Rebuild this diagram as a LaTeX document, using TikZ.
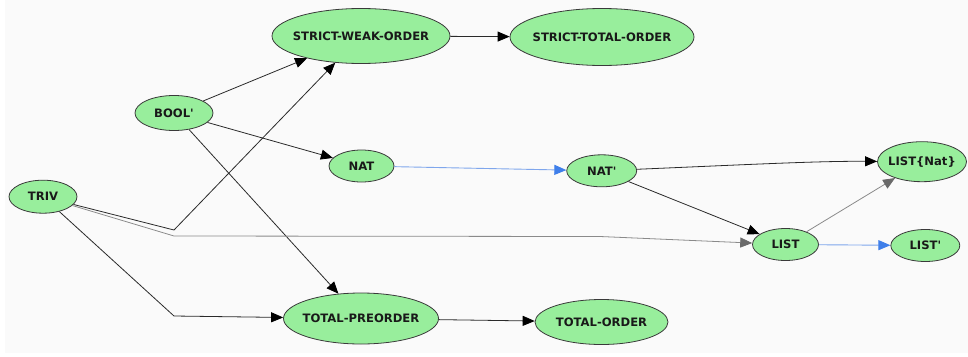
\documentclass[tikz,border=0pt]{standalone}
\usepackage{fontspec}
\newfontfamily\nodefont{DejaVu Sans}
\usetikzlibrary{shapes.geometric,arrows.meta}
\definecolor{nodefill}{HTML}{98EE9C}
\definecolor{nodeline}{HTML}{3A3A3A}
\definecolor{bgcol}{HTML}{FAFAFA}
\definecolor{edgedark}{HTML}{2A2A2A}
\definecolor{edgegray}{HTML}{8A8A8A}
\definecolor{tipgray}{HTML}{6A6A6A}
\definecolor{edgeblue}{HTML}{7FA6EC}
\definecolor{tipblue}{HTML}{3F7FEA}
\newcommand{\lbl}[1]{\makebox[0pt][c]{#1}}
\tikzset{
  modnode/.style={ellipse, draw=nodeline, fill=nodefill, line width=0.8pt, inner sep=0pt,
    font=\nodefont\fontsize{11.6}{13}\selectfont\bfseries, text=black!90},
  darkedge/.style={draw=edgedark, line width=0.8pt, -{Triangle[length=12pt,width=10pt,fill=black,color=black]}},
  grayedge/.style={draw=edgegray, line width=0.8pt, -{Triangle[length=12pt,width=10pt,fill=tipgray,color=tipgray]}},
  blueedge/.style={draw=edgeblue, line width=0.9pt, -{Triangle[length=12pt,width=10pt,fill=tipblue,color=tipblue]}},
}
\begin{document}
\begin{tikzpicture}[x=1pt,y=-1pt]
\useasboundingbox (0,0) rectangle (968,356);
\fill[bgcol] (5,0) rectangle (968,353);

\node[modnode, minimum width=178pt, minimum height=55pt] (swo) at (361,36) {\lbl{STRICT-WEAK-ORDER}};
\node[modnode, minimum width=184pt, minimum height=57pt] (sto) at (602,37) {\lbl{STRICT-TOTAL-ORDER}};
\node[modnode, minimum width=78pt, minimum height=35pt] (bool) at (174,113) {\lbl{BOOL'}};
\node[modnode, minimum width=65pt, minimum height=32pt] (nat) at (361.5,166) {\lbl{NAT}};
\node[modnode, minimum width=70pt, minimum height=32pt] (natp) at (601.7,170.8) {\lbl{NAT'}};
\node[modnode, minimum width=89pt, minimum height=40pt] (listnat) at (922,161.7) {\lbl{LIST\{Nat\}}};
\node[modnode, minimum width=68pt, minimum height=33pt] (triv) at (43,196.7) {\lbl{TRIV}};
\node[modnode, minimum width=66pt, minimum height=32pt] (list) at (785.5,244.5) {\lbl{LIST}};
\node[modnode, minimum width=69pt, minimum height=32pt] (listp) at (925.3,245.5) {\lbl{LIST'}};
\node[modnode, minimum width=155pt, minimum height=51pt] (tpo) at (361,318.5) {\lbl{TOTAL-PREORDER}};
\node[modnode, minimum width=133pt, minimum height=45pt] (to) at (601.5,322) {\lbl{TOTAL-ORDER}};

\coordinate (b1) at (174,230);
\coordinate (b2) at (174,236);
\coordinate (b3) at (600,236.5);
\coordinate (b4) at (174,316);

\draw[darkedge] (swo) -- (sto);
\draw[darkedge] (bool) -- (swo);
\draw[darkedge] (triv) -- (b1) -- (swo);
\draw[darkedge] (bool) -- (nat);
\draw[darkedge] (bool) -- (tpo);
\draw[grayedge] (triv) -- (b2) -- (b3) -- (list);
\draw[darkedge] (triv) -- (b4) -- (tpo);
\draw[darkedge] (tpo) -- (to);
\draw[blueedge] (nat) -- (natp);
\draw[darkedge] (natp) .. controls (760,164) and (820,161) .. (listnat);
\draw[darkedge] (natp) -- (list);
\draw[grayedge] (list) -- (listnat);
\draw[blueedge] (list) -- (listp);
\end{tikzpicture}
\end{document}
